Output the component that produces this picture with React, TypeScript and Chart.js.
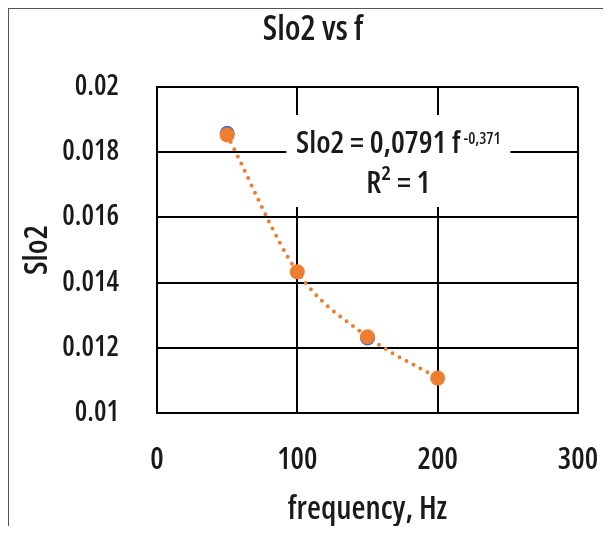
import React, { useEffect, useRef } from "react";
import { Chart, registerables } from "chart.js";

Chart.register(...registerables);

// ---- data ----
const BLUE_X = [50, 150];
const BLUE_Y = [0.01858, 0.0123];
const ORANGE_X = [50, 100, 150, 200];
const ORANGE_Y = [0.01853, 0.01433, 0.01234, 0.01107];
const X_TICK_LABELS = ["0", "100", "200", "300"];
const Y_TICK_LABELS = ["0.01", "0.012", "0.014", "0.016", "0.018", "0.02"];
const TITLE = "Slo2 vs f";
const X_TITLE = "frequency, Hz";
const Y_TITLE = "Slo2";
const EQ_MAIN = "Slo2 = 0,0791 f";
const EQ_SUP = "-0,371";
const EQ_R2 = "R² = 1";
const EQ_POS_X = 172;
const EQ_POS_Y = 0.01773;

const FAMILY = '"Open Sans", "DejaVu Sans Condensed", sans-serif';
const W = "600 condensed";
const TEXT = "#1a1a1a";
const BLUE = "#4472C4";
const ORANGE = "#ED7D31";

const equationPlugin = {
  id: "equationLabel",
  beforeDatasetsDraw(chart: any) {
    const { ctx, scales } = chart;
    const cx = scales.x.getPixelForValue(EQ_POS_X);
    const cy = scales.y.getPixelForValue(EQ_POS_Y);
    ctx.save();
    const mainFont = `${W} 31px ${FAMILY}`;
    const supFont = `${W} 16px ${FAMILY}`;
    ctx.font = mainFont;
    const wMain = ctx.measureText(EQ_MAIN).width;
    ctx.font = supFont;
    const wSup = ctx.measureText(EQ_SUP).width;
    const gap = 3;
    const w1 = wMain + gap + wSup;
    ctx.fillStyle = "#ffffff";
    ctx.fillRect(cx - 112, cy - 46, 224, 92);
    ctx.fillStyle = TEXT;
    ctx.textBaseline = "alphabetic";
    ctx.textAlign = "left";
    const base1 = cy - 8;
    const x1 = cx - w1 / 2;
    ctx.font = mainFont;
    ctx.fillText(EQ_MAIN, x1, base1);
    ctx.font = supFont;
    ctx.fillText(EQ_SUP, x1 + wMain + gap, base1 - 9);
    ctx.font = mainFont;
    ctx.textAlign = "center";
    ctx.fillText(EQ_R2, cx, cy + 32);
    ctx.restore();
  },
};

export default function App() {
  const canvasRef = useRef<HTMLCanvasElement | null>(null);

  useEffect(() => {
    const canvas = canvasRef.current;
    if (!canvas) return;
    const chart = new Chart(canvas, {
      type: "scatter",
      data: {
        datasets: [
          {
            label: "trend",
            data: ORANGE_X.map((x, i) => ({ x, y: ORANGE_Y[i] })),
            showLine: true,
            borderColor: ORANGE,
            borderWidth: 4,
            borderDash: [0, 8],
            borderCapStyle: "round",
            cubicInterpolationMode: "monotone",
            pointRadius: 0,
            order: 3,
          } as any,
          {
            label: "blue",
            data: BLUE_X.map((x, i) => ({ x, y: BLUE_Y[i] })),
            backgroundColor: BLUE,
            borderColor: BLUE,
            pointRadius: 7.5,
            borderWidth: 0,
            order: 2,
          },
          {
            label: "orange",
            data: ORANGE_X.map((x, i) => ({ x, y: ORANGE_Y[i] })),
            backgroundColor: ORANGE,
            borderColor: ORANGE,
            pointRadius: 7.5,
            borderWidth: 0,
            order: 1,
          },
        ],
      },
      options: {
        responsive: false,
        animation: false,
        devicePixelRatio: 1,
        layout: { autoPadding: false, padding: { left: 39, right: 33, top: 0, bottom: 0 } },
        plugins: {
          legend: { display: false },
          tooltip: { enabled: false },
          title: {
            display: true,
            text: TITLE,
            color: TEXT,
            font: { family: FAMILY, size: 34, weight: W as any },
            padding: { top: 1, bottom: 36.2 },
          },
        },
        scales: {
          x: {
            type: "linear",
            min: 0,
            max: 300,
            afterFit: (s: any) => {
              s.height = 113;
              s.paddingLeft = 0;
              s.paddingRight = 0;
            },
            afterBuildTicks: (s: any) => {
              s.ticks = X_TICK_LABELS.map((t) => ({ value: Number(t) }));
            },
            ticks: {
              color: TEXT,
              font: { family: FAMILY, size: 30, weight: W as any },
              padding: 29,
              maxRotation: 0,
              callback: (_v: any, i: number) => X_TICK_LABELS[i],
            },
            grid: { color: "#000", lineWidth: 2, drawTicks: false },
            border: { color: "#000", width: 2 },
            title: {
              display: true,
              text: X_TITLE,
              color: TEXT,
              font: { family: FAMILY, size: 32, weight: W as any, lineHeight: 1 },
              padding: { top: 0, bottom: 0 },
            },
          },
          y: {
            type: "linear",
            min: 0.01,
            max: 0.02,
            afterFit: (s: any) => {
              s.width = 109;
              s.paddingTop = 0;
              s.paddingBottom = 0;
            },
            afterBuildTicks: (s: any) => {
              s.ticks = Y_TICK_LABELS.map((t) => ({ value: Number(t) }));
            },
            ticks: {
              color: TEXT,
              font: { family: FAMILY, size: 28, weight: W as any },
              padding: 38,
              callback: (_v: any, i: number) => Y_TICK_LABELS[i],
            },
            grid: { color: "#000", lineWidth: 2, drawTicks: false },
            border: { color: "#000", width: 2 },
            title: {
              display: true,
              text: Y_TITLE,
              color: TEXT,
              font: { family: FAMILY, size: 32, weight: W as any },
              padding: { top: -29, bottom: 0 },
            },
          },
        },
      },
      plugins: [equationPlugin],
    });
    return () => chart.destroy();
  }, []);

  return (
    <div
      style={{
        width: 603,
        height: 518,
        borderLeft: "1px solid #555",
        borderTop: "1px solid #555",
        boxSizing: "border-box",
        background: "#fff",
      }}
    >
      <canvas ref={canvasRef} width={602} height={517} style={{ display: "block" }} />
    </div>
  );
}
